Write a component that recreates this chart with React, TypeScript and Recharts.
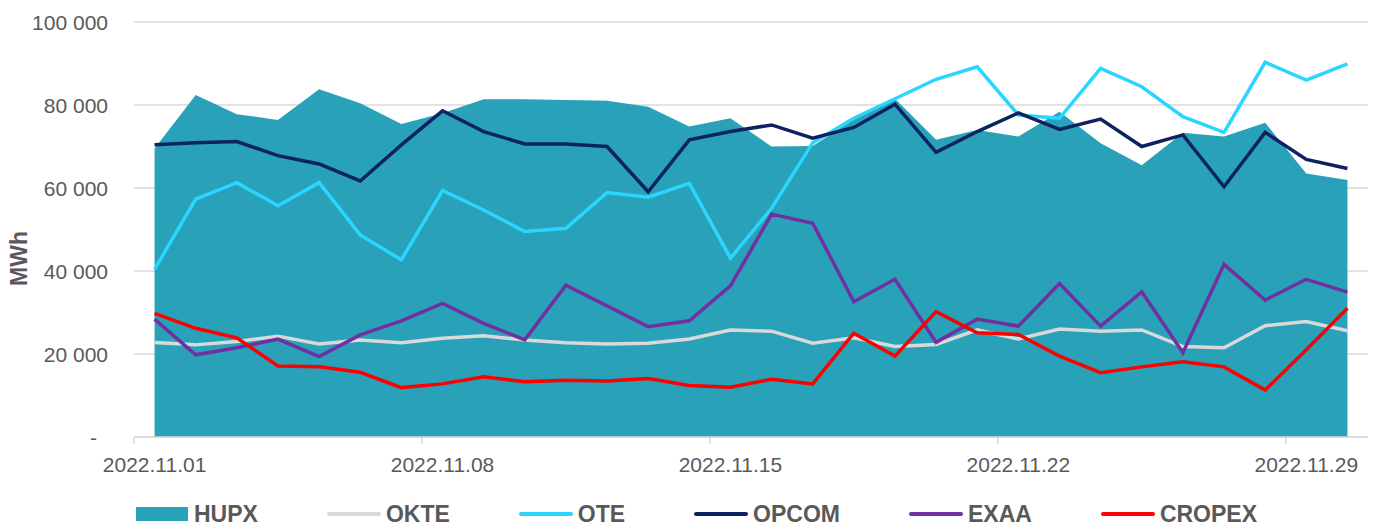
import React from 'react';
import { ComposedChart, Area, Line, XAxis, YAxis, CartesianGrid } from 'recharts';

const dates = [
  '2022.11.01', '2022.11.02', '2022.11.03', '2022.11.04', '2022.11.05', '2022.11.06', '2022.11.07',
  '2022.11.08', '2022.11.09', '2022.11.10', '2022.11.11', '2022.11.12', '2022.11.13', '2022.11.14',
  '2022.11.15', '2022.11.16', '2022.11.17', '2022.11.18', '2022.11.19', '2022.11.20', '2022.11.21',
  '2022.11.22', '2022.11.23', '2022.11.24', '2022.11.25', '2022.11.26', '2022.11.27', '2022.11.28',
  '2022.11.29', '2022.11.30',
];

const hupx = [69500, 82400, 77800, 76400, 83800, 80400, 75400, 78000, 81400, 81400, 81200, 81000, 79600, 74800, 76800,
  70000, 70100, 76500, 81500, 71600, 74000, 72400, 78400, 70800, 65500, 73300, 72400, 75700, 63500, 61900];
const okte = [22800, 22200, 23000, 24300, 22400, 23400, 22700, 23800, 24400, 23400, 22700, 22400, 22600, 23600, 25800,
  25500, 22600, 23900, 21800, 22300, 25800, 23600, 26000, 25500, 25800, 21800, 21500, 26800, 27800, 25600];
const ote = [40400, 57300, 61300, 55700, 61300, 48700, 42700, 59400, 54700, 49500, 50300, 58900, 57800, 61100, 43100,
  55100, 70900, 76800, 81500, 86200, 89200, 77600, 76800, 88800, 84400, 77200, 73400, 90300, 86000, 89900];
const opcom = [70400, 70900, 71200, 67800, 65800, 61700, 70400, 78600, 73600, 70600, 70600, 70000, 59100, 71600, 73600,
  75200, 72000, 74600, 80200, 68600, 73600, 78100, 74100, 76600, 70000, 72800, 60300, 73400, 66900, 64700];
const exaa = [28400, 19800, 21500, 23600, 19400, 24600, 28000, 32200, 27400, 23400, 36600, 31600, 26600, 28000, 36400,
  53700, 51500, 32600, 38000, 22800, 28400, 26700, 37000, 26700, 35000, 20300, 41600, 33000, 38000, 34900];
const cropex = [29800, 26200, 23900, 17100, 16900, 15600, 11900, 12800, 14500, 13300, 13700, 13500, 14100, 12400, 12000,
  13900, 12800, 25000, 19500, 30200, 25100, 24700, 19500, 15500, 16900, 18100, 16900, 11300, 21000, 31000];

const yTicks = [0, 20000, 40000, 60000, 80000, 100000];

const data = dates.map((d, i) => ({
  date: d,
  HUPX: hupx[i],
  OKTE: okte[i],
  OTE: ote[i],
  OPCOM: opcom[i],
  EXAA: exaa[i],
  CROPEX: cropex[i],
}));

const FONT = '"Liberation Sans", Arial, sans-serif';
const TEXT = '#595959';
const GRID = '#D9D9D9';

const series = [
  { key: 'HUPX', color: '#28A1B9', area: true },
  { key: 'OKTE', color: '#D9D9D9' },
  { key: 'OTE', color: '#2AD6FF' },
  { key: 'OPCOM', color: '#0D2361' },
  { key: 'EXAA', color: '#7030A0' },
  { key: 'CROPEX', color: '#FF0000' },
];

const fmt = (v: number) => String(v).replace(/\B(?=(\d{3})+(?!\d))/g, ' ');

const XTick = (props: any) => {
  const { x, y, payload } = props;
  const half = payload && payload.offset ? payload.offset : 20.57;
  return (
    <g>
      <line x1={x - half} x2={x - half} y1={y - 20} y2={y - 13} stroke={GRID} strokeWidth={1.5} />
      <text x={x} y={y} dy="0.71em" textAnchor="middle" fill={TEXT} fontSize={21} fontFamily={FONT}>
        {payload.value}
      </text>
    </g>
  );
};

const YTick = (props: any) => {
  const { x, y, payload } = props;
  const zero = payload.value === 0;
  return (
    <text x={zero ? x - 11 : x} y={y} dy="0.36em" textAnchor="end" fill={TEXT} fontSize={21} fontFamily={FONT}>
      {zero ? '-' : fmt(payload.value)}
    </text>
  );
};

const LegendRow = () => (
  <div
    style={{
      display: 'flex',
      alignItems: 'center',
      height: 30,
      paddingLeft: 136,
      gap: 69,
      fontFamily: FONT,
      fontWeight: 'bold',
      fontSize: 23,
      color: TEXT,
    }}
  >
    {series.map((s) => (
      <div key={s.key} style={{ display: 'flex', alignItems: 'center' }}>
        {s.area ? (
          <div style={{ width: 52, height: 14, background: s.color, marginRight: 6 }} />
        ) : (
          <div style={{ width: 54, height: 4, borderRadius: 2, background: s.color, marginRight: 5 }} />
        )}
        <span>{s.key}</span>
      </div>
    ))}
  </div>
);

export default function App() {
  return (
    <div style={{ position: 'absolute', left: 0, top: 0, width: 1378, height: 529, background: '#fff' }}>
      <ComposedChart width={1378} height={499} data={data} margin={{ top: 22, right: 10, left: 0, bottom: 0 }}>
        <CartesianGrid vertical={false} stroke={GRID} strokeWidth={1.3} />
        <XAxis
          dataKey="date"
          scale="band"
          interval={6}
          height={62}
          tickSize={0}
          tickMargin={20}
          axisLine={{ stroke: GRID, strokeWidth: 1.5 }}
          tickLine={false}
          tick={<XTick />}
        />
        <YAxis
          width={134}
          domain={[0, 100000]}
          ticks={yTicks}
          axisLine={false}
          tickLine={false}
          tickSize={0}
          tickMargin={26}
          tick={<YTick />}
          label={{
            value: 'MWh',
            angle: -90,
            position: 'center',
            dx: -48,
            dy: 29,
            style: { fontFamily: FONT, fontWeight: 'bold', fontSize: 23, fill: TEXT, textAnchor: 'middle' },
          }}
        />
        <Area
          dataKey="HUPX"
          type="linear"
          stroke="none"
          fill="#28A1B9"
          fillOpacity={1}
          isAnimationActive={false}
        />
        {series
          .filter((s) => !s.area)
          .map((s) => (
            <Line
              key={s.key}
              dataKey={s.key}
              type="linear"
              stroke={s.color}
              strokeWidth={3.5}
              dot={false}
              activeDot={false}
              isAnimationActive={false}
            />
          ))}
      </ComposedChart>
      <LegendRow />
    </div>
  );
}
